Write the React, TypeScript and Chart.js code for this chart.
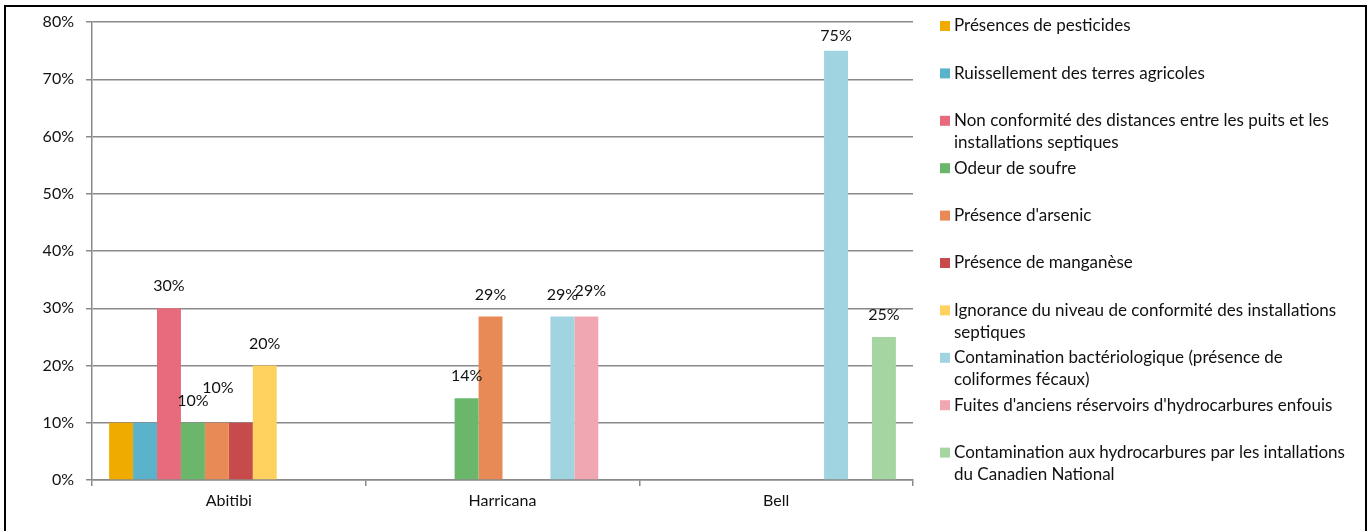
import React, { useEffect, useRef } from "react";
import { Chart, registerables } from "chart.js";

Chart.register(...registerables);

const categories = ["Abitibi", "Harricana", "Bell"];

const seriesNames = [
  "Présences de pesticides",
  "Ruissellement des terres agricoles",
  "Non conformité des distances entre les puits et les\ninstallations septiques",
  "Odeur de soufre",
  "Présence d'arsenic",
  "Présence de manganèse",
  "Ignorance du niveau de conformité des installations\nseptiques",
  "Contamination bactériologique (présence de\ncoliformes fécaux)",
  "Fuites d'anciens réservoirs d'hydrocarbures enfouis",
  "Contamination aux hydrocarbures par les intallations\ndu Canadien National",
];

const seriesColors = [
  "#F0AB00",
  "#5BB3CB",
  "#E76B7D",
  "#6AB76C",
  "#E88A55",
  "#C84B4B",
  "#FFD25F",
  "#A1D4E1",
  "#F0A7B1",
  "#A5D6A1",
];

// values per series, in order: Abitibi, Harricana, Bell (percent)
const pesticides = [10, null, null];
const ruissellement = [10, null, null];
const nonConformite = [30, null, null];
const soufre = [10, 14.29, null];
const arsenic = [10, 28.57, null];
const manganese = [10, null, null];
const ignorance = [20, null, null];
const bacterio = [null, 28.57, 75];
const fuites = [null, 28.57, null];
const hydroCN = [null, null, 25];

const seriesValues = [
  pesticides,
  ruissellement,
  nonConformite,
  soufre,
  arsenic,
  manganese,
  ignorance,
  bacterio,
  fuites,
  hydroCN,
];

const yTicks = [0, 10, 20, 30, 40, 50, 60, 70, 80];

// label tweaks: [seriesIndex, categoryIndex]
const hiddenLabels = [
  [0, 0],
  [1, 0],
  [5, 0],
];
// [seriesIndex, categoryIndex, dx, dy]
const labelShifts = [
  [4, 0, 1, 35],
  [8, 1, 4, 26],
  [7, 2, 0, 15],
];

const FONT = "Lato, 'Open Sans', sans-serif";

const labelPlugin = {
  id: "barLabels",
  afterDatasetsDraw(chart: any) {
    const ctx = chart.ctx;
    ctx.save();
    ctx.font = `16px ${FONT}`;
    ctx.fillStyle = "#111";
    ctx.textAlign = "center";
    ctx.textBaseline = "middle";
    chart.data.datasets.forEach((ds: any, i: number) => {
      const meta = chart.getDatasetMeta(i);
      ds.data.forEach((v: any, j: number) => {
        if (v === null || v === undefined) return;
        if (hiddenLabels.some((h) => h[0] === i && h[1] === j)) return;
        const el = meta.data[j];
        let dx = 0;
        let dy = 22;
        const s = labelShifts.find((h) => h[0] === i && h[1] === j);
        if (s) {
          dx = s[2];
          dy = s[3];
        }
        ctx.fillText(Math.round(v) + "%", el.x + dx, el.y - dy);
      });
    });
    ctx.restore();
  },
};

const legendPlugin = {
  id: "sideLegend",
  afterDraw(chart: any) {
    const ctx = chart.ctx;
    ctx.save();
    ctx.font = `17px ${FONT}`;
    ctx.textBaseline = "middle";
    ctx.textAlign = "left";
    const x0 = 940;
    const y0 = 26;
    const step = 47.4;
    const lineH = 22;
    seriesNames.forEach((name, i) => {
      const y = y0 + i * step;
      ctx.fillStyle = seriesColors[i];
      ctx.fillRect(x0, y - 5, 10, 10);
      ctx.fillStyle = "#111";
      name.split("\n").forEach((line, k) => {
        ctx.fillText(line, x0 + 14, y + k * lineH);
      });
    });
    ctx.restore();
  },
};

export default function App() {
  const ref = useRef<HTMLCanvasElement | null>(null);

  useEffect(() => {
    if (!ref.current) return;
    const chart = new Chart(ref.current, {
      type: "bar",
      data: {
        labels: categories,
        datasets: seriesNames.map((n, i) => ({
          label: n,
          data: seriesValues[i],
          backgroundColor: seriesColors[i],
          borderWidth: 0,
          categoryPercentage: 0.875,
          barPercentage: 1.0,
        })),
      },
      options: {
        animation: false,
        responsive: false,
        maintainAspectRatio: false,
        layout: { padding: { left: 0, right: 455, top: 22, bottom: 0 } },
        plugins: {
          legend: { display: false },
          tooltip: { enabled: false },
        },
        scales: {
          x: {
            grid: {
              display: true,
              drawOnChartArea: false,
              drawTicks: true,
              tickLength: 6,
              color: "#8a8a8a",
              lineWidth: 1.5,
              offset: true,
            },
            border: { color: "#8a8a8a", width: 1.5 },
            ticks: {
              color: "#111",
              font: { family: FONT, size: 16 },
              padding: 5,
            },
            afterFit(scale: any) {
              scale.height = 51;
            },
          },
          y: {
            min: 0,
            max: 80,
            afterBuildTicks(scale: any) {
              scale.ticks = yTicks.map((v) => ({ value: v }));
            },
            grid: {
              color: "#8a8a8a",
              lineWidth: 1.5,
              tickLength: 6,
            },
            border: { color: "#8a8a8a", width: 1.5 },
            ticks: {
              color: "#111",
              font: { family: FONT, size: 16 },
              padding: 12,
              callback: (v: any) => v + "%",
            },
            afterFit(scale: any) {
              scale.width = 92;
            },
          },
        },
      },
      plugins: [labelPlugin, legendPlugin],
    });
    return () => chart.destroy();
  }, []);

  return (
    <div
      style={{
        position: "absolute",
        left: 0,
        top: 0,
        width: 1368,
        height: 531,
        overflow: "hidden",
        background: "#fff",
      }}
    >
      <div
        style={{
          position: "absolute",
          left: 4,
          top: 5,
          width: 1363,
          height: 560,
          boxSizing: "border-box",
          border: "2px solid #000",
        }}
      />
      <canvas
        ref={ref}
        width={1368}
        height={531}
        style={{ position: "absolute", left: 0, top: 0, width: 1368, height: 531 }}
      />
    </div>
  );
}
